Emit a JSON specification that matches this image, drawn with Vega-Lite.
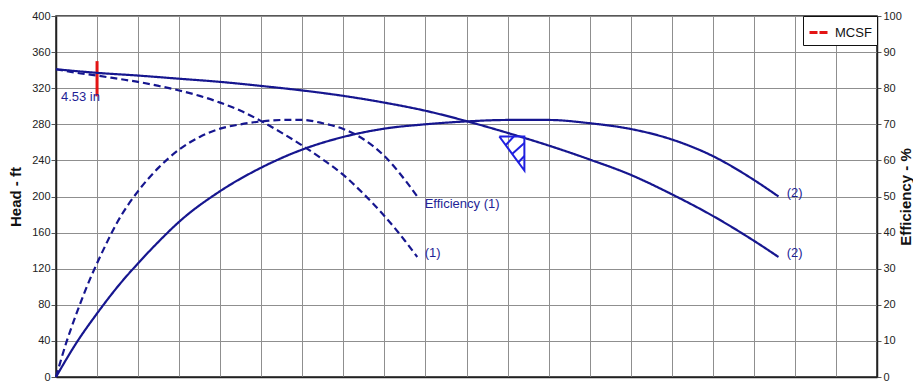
{
  "$schema": "https://vega.github.io/schema/vega-lite/v6.json",
  "width": 821,
  "height": 361,
  "autosize": {"type": "none"},
  "padding": {"left": 56, "top": 16, "right": 36, "bottom": 4},
  "background": "white",
  "config": {
    "font": "Liberation Sans",
    "view": {"stroke": "#222", "strokeWidth": 1.5},
    "axis": {
      "labelFont": "Liberation Sans",
      "labelFontSize": 11,
      "labelColor": "#222",
      "gridColor": "#8f8f8f",
      "gridWidth": 1,
      "gridOpacity": 1,
      "domainColor": "#222",
      "tickColor": "#555",
      "titleFont": "Liberation Sans",
      "titleColor": "#111"
    },
    "legend": {
      "orient": "top-right",
      "offset": 0,
      "padding": 5,
      "strokeColor": "#111",
      "fillColor": "white",
      "symbolType": "stroke",
      "symbolStrokeWidth": 3,
      "symbolSize": 400,
      "symbolDash": [8, 2],
      "labelFont": "Liberation Sans",
      "labelFontSize": 13,
      "labelColor": "#111",
      "cornerRadius": 0
    }
  },
  "datasets": {
    "head": [
      {"series": "Head (2)", "run": "2", "x": 0, "y": 341},
      {"series": "Head (2)", "run": "2", "x": 1, "y": 337},
      {"series": "Head (2)", "run": "2", "x": 2, "y": 334},
      {"series": "Head (2)", "run": "2", "x": 3, "y": 330.5},
      {"series": "Head (2)", "run": "2", "x": 4, "y": 327},
      {"series": "Head (2)", "run": "2", "x": 5, "y": 322.5},
      {"series": "Head (2)", "run": "2", "x": 6, "y": 317.5},
      {"series": "Head (2)", "run": "2", "x": 7, "y": 311.5},
      {"series": "Head (2)", "run": "2", "x": 8, "y": 304},
      {"series": "Head (2)", "run": "2", "x": 9, "y": 295},
      {"series": "Head (2)", "run": "2", "x": 10, "y": 283.5},
      {"series": "Head (2)", "run": "2", "x": 11, "y": 270.5},
      {"series": "Head (2)", "run": "2", "x": 12, "y": 256.5},
      {"series": "Head (2)", "run": "2", "x": 13, "y": 241},
      {"series": "Head (2)", "run": "2", "x": 14, "y": 224},
      {"series": "Head (2)", "run": "2", "x": 15, "y": 202.5},
      {"series": "Head (2)", "run": "2", "x": 16, "y": 178.5},
      {"series": "Head (2)", "run": "2", "x": 17, "y": 151},
      {"series": "Head (2)", "run": "2", "x": 17.6, "y": 133},
      {"series": "Head (1)", "run": "1", "x": 0, "y": 341},
      {"series": "Head (1)", "run": "1", "x": 0.5, "y": 337},
      {"series": "Head (1)", "run": "1", "x": 1, "y": 334},
      {"series": "Head (1)", "run": "1", "x": 1.5, "y": 330.5},
      {"series": "Head (1)", "run": "1", "x": 2, "y": 327},
      {"series": "Head (1)", "run": "1", "x": 2.5, "y": 322.5},
      {"series": "Head (1)", "run": "1", "x": 3, "y": 317.5},
      {"series": "Head (1)", "run": "1", "x": 3.5, "y": 311.5},
      {"series": "Head (1)", "run": "1", "x": 4, "y": 304},
      {"series": "Head (1)", "run": "1", "x": 4.5, "y": 295},
      {"series": "Head (1)", "run": "1", "x": 5, "y": 283.5},
      {"series": "Head (1)", "run": "1", "x": 5.5, "y": 270.5},
      {"series": "Head (1)", "run": "1", "x": 6, "y": 256.5},
      {"series": "Head (1)", "run": "1", "x": 6.5, "y": 241},
      {"series": "Head (1)", "run": "1", "x": 7, "y": 224},
      {"series": "Head (1)", "run": "1", "x": 7.5, "y": 202.5},
      {"series": "Head (1)", "run": "1", "x": 8, "y": 178.5},
      {"series": "Head (1)", "run": "1", "x": 8.5, "y": 151},
      {"series": "Head (1)", "run": "1", "x": 8.8, "y": 133}
    ],
    "eff": [
      {"series": "Eff (2)", "run": "2", "x": 0, "y": 0},
      {"series": "Eff (2)", "run": "2", "x": 0.5, "y": 9.5},
      {"series": "Eff (2)", "run": "2", "x": 1, "y": 17.6},
      {"series": "Eff (2)", "run": "2", "x": 1.5, "y": 25},
      {"series": "Eff (2)", "run": "2", "x": 2, "y": 31.5},
      {"series": "Eff (2)", "run": "2", "x": 2.5, "y": 37.5},
      {"series": "Eff (2)", "run": "2", "x": 3, "y": 43},
      {"series": "Eff (2)", "run": "2", "x": 4, "y": 51.5},
      {"series": "Eff (2)", "run": "2", "x": 5, "y": 58},
      {"series": "Eff (2)", "run": "2", "x": 6, "y": 63},
      {"series": "Eff (2)", "run": "2", "x": 7, "y": 66.5},
      {"series": "Eff (2)", "run": "2", "x": 8, "y": 68.8},
      {"series": "Eff (2)", "run": "2", "x": 9, "y": 70},
      {"series": "Eff (2)", "run": "2", "x": 10, "y": 70.8},
      {"series": "Eff (2)", "run": "2", "x": 11, "y": 71.2},
      {"series": "Eff (2)", "run": "2", "x": 12, "y": 71.2},
      {"series": "Eff (2)", "run": "2", "x": 13, "y": 70.3},
      {"series": "Eff (2)", "run": "2", "x": 14, "y": 68.7},
      {"series": "Eff (2)", "run": "2", "x": 15, "y": 65.8},
      {"series": "Eff (2)", "run": "2", "x": 16, "y": 61.2},
      {"series": "Eff (2)", "run": "2", "x": 17, "y": 54.6},
      {"series": "Eff (2)", "run": "2", "x": 17.6, "y": 50},
      {"series": "Eff (1)", "run": "1", "x": 0, "y": 0},
      {"series": "Eff (1)", "run": "1", "x": 0.25, "y": 9.5},
      {"series": "Eff (1)", "run": "1", "x": 0.5, "y": 17.6},
      {"series": "Eff (1)", "run": "1", "x": 0.75, "y": 25},
      {"series": "Eff (1)", "run": "1", "x": 1, "y": 31.5},
      {"series": "Eff (1)", "run": "1", "x": 1.25, "y": 37.5},
      {"series": "Eff (1)", "run": "1", "x": 1.5, "y": 43},
      {"series": "Eff (1)", "run": "1", "x": 2, "y": 51.5},
      {"series": "Eff (1)", "run": "1", "x": 2.5, "y": 58},
      {"series": "Eff (1)", "run": "1", "x": 3, "y": 63},
      {"series": "Eff (1)", "run": "1", "x": 3.5, "y": 66.5},
      {"series": "Eff (1)", "run": "1", "x": 4, "y": 68.8},
      {"series": "Eff (1)", "run": "1", "x": 4.5, "y": 70},
      {"series": "Eff (1)", "run": "1", "x": 5, "y": 70.8},
      {"series": "Eff (1)", "run": "1", "x": 5.5, "y": 71.2},
      {"series": "Eff (1)", "run": "1", "x": 6, "y": 71.2},
      {"series": "Eff (1)", "run": "1", "x": 6.5, "y": 70.3},
      {"series": "Eff (1)", "run": "1", "x": 7, "y": 68.7},
      {"series": "Eff (1)", "run": "1", "x": 7.5, "y": 65.8},
      {"series": "Eff (1)", "run": "1", "x": 8, "y": 61.2},
      {"series": "Eff (1)", "run": "1", "x": 8.5, "y": 54.6},
      {"series": "Eff (1)", "run": "1", "x": 8.8, "y": 50}
    ],
    "mcsf": [
      {"name": "MCSF", "x": 1, "y": 311, "y2": 350}
    ],
    "headLabels": [
      {"label": "4.53 in", "x": 0.12, "y": 310},
      {"label": "(1)", "x": 8.98, "y": 137.5},
      {"label": "(2)", "x": 17.8, "y": 137}
    ],
    "effLabels": [
      {"label": "Efficiency (1)", "x": 8.98, "y": 47.9},
      {"label": "(2)", "x": 17.8, "y": 50.9}
    ],
    "bep": [
      {"seg": "tri", "ord": 1, "x": 10.8, "y": 266.5},
      {"seg": "tri", "ord": 2, "x": 11.41, "y": 266.5},
      {"seg": "tri", "ord": 3, "x": 11.41, "y": 228.8},
      {"seg": "tri", "ord": 4, "x": 10.8, "y": 266.5},
      {"seg": "h1", "ord": 1, "x": 10.96, "y": 257.1},
      {"seg": "h1", "ord": 2, "x": 11.15, "y": 266.5},
      {"seg": "h2", "ord": 1, "x": 11.11, "y": 247.1},
      {"seg": "h2", "ord": 2, "x": 11.41, "y": 259.3},
      {"seg": "h3", "ord": 1, "x": 11.26, "y": 237.7},
      {"seg": "h3", "ord": 2, "x": 11.41, "y": 244.9}
    ]
  },
  "layer": [
    {
      "layer": [
        {
          "data": {"name": "mcsf"},
          "mark": {"type": "rule", "strokeWidth": 3},
          "encoding": {
            "x": {"field": "x", "type": "quantitative", "scale": {"domain": [0, 20], "nice": false}, "axis": {"title": null, "labels": false, "ticks": false, "grid": true, "tickCount": 30, "values": [0,1,2,3,4,5,6,7,8,9,10,11,12,13,14,15,16,17,18,19,20], "domainColor": "#222", "domainWidth": 1.5}},
            "y": {"field": "y", "type": "quantitative", "scale": {"domain": [0, 400], "nice": false}, "axis": {"title": "Head - ft", "tickCount": 20, "values": [0,40,80,120,160,200,240,280,320,360,400], "labelOverlap": false, "grid": true, "tickSize": 5, "labelPadding": 1, "titleFontSize": 15, "titleFontWeight": "bold", "titlePadding": 8, "domainColor": "#222", "domainWidth": 1.5}},
            "y2": {"field": "y2"},
            "color": {"field": "name", "type": "nominal", "scale": {"domain": ["MCSF"], "range": ["#e31414"]}, "legend": {"title": null}}
          }
        },
        {
          "data": {"name": "head"},
          "mark": {"type": "line", "color": "#16168f", "strokeWidth": 2.2, "interpolate": "monotone"},
          "encoding": {
            "x": {"field": "x", "type": "quantitative"},
            "y": {"field": "y", "type": "quantitative"},
            "detail": {"field": "series"},
            "strokeDash": {"field": "run", "type": "nominal", "scale": {"domain": ["1", "2"], "range": [[7, 4], [1, 0]]}, "legend": null}
          }
        },
        {
          "data": {"name": "headLabels"},
          "mark": {"type": "text", "align": "left", "baseline": "middle", "fontSize": 13, "color": "#1f1f96", "font": "Liberation Sans"},
          "encoding": {
            "x": {"field": "x", "type": "quantitative"},
            "y": {"field": "y", "type": "quantitative"},
            "text": {"field": "label"}
          }
        },
        {
          "data": {"name": "bep"},
          "mark": {"type": "line", "color": "#2020e0", "strokeWidth": 2},
          "encoding": {
            "x": {"field": "x", "type": "quantitative"},
            "y": {"field": "y", "type": "quantitative"},
            "detail": {"field": "seg"},
            "order": {"field": "ord"}
          }
        }
      ]
    },
    {
      "layer": [
        {
          "data": {"name": "eff"},
          "mark": {"type": "line", "color": "#16168f", "strokeWidth": 2.2, "interpolate": "monotone"},
          "encoding": {
            "x": {"field": "x", "type": "quantitative"},
            "y": {"field": "y", "type": "quantitative", "scale": {"domain": [0, 100], "nice": false}, "axis": {"orient": "right", "title": "Efficiency - %", "titleAngle": 270, "tickCount": 20, "values": [0,10,20,30,40,50,60,70,80,90,100], "labelOverlap": false, "grid": false, "tickSize": 4, "labelPadding": 2, "titleFontSize": 15, "titleFontWeight": "bold", "titlePadding": 12, "domainColor": "#222", "domainWidth": 1.5}},
            "detail": {"field": "series"},
            "strokeDash": {"field": "run", "type": "nominal", "scale": {"domain": ["1", "2"], "range": [[7, 4], [1, 0]]}, "legend": null}
          }
        },
        {
          "data": {"name": "effLabels"},
          "mark": {"type": "text", "align": "left", "baseline": "middle", "fontSize": 13, "color": "#1f1f96", "font": "Liberation Sans"},
          "encoding": {
            "x": {"field": "x", "type": "quantitative"},
            "y": {"field": "y", "type": "quantitative"},
            "text": {"field": "label"}
          }
        }
      ]
    }
  ],
  "resolve": {"scale": {"y": "independent"}}
}
